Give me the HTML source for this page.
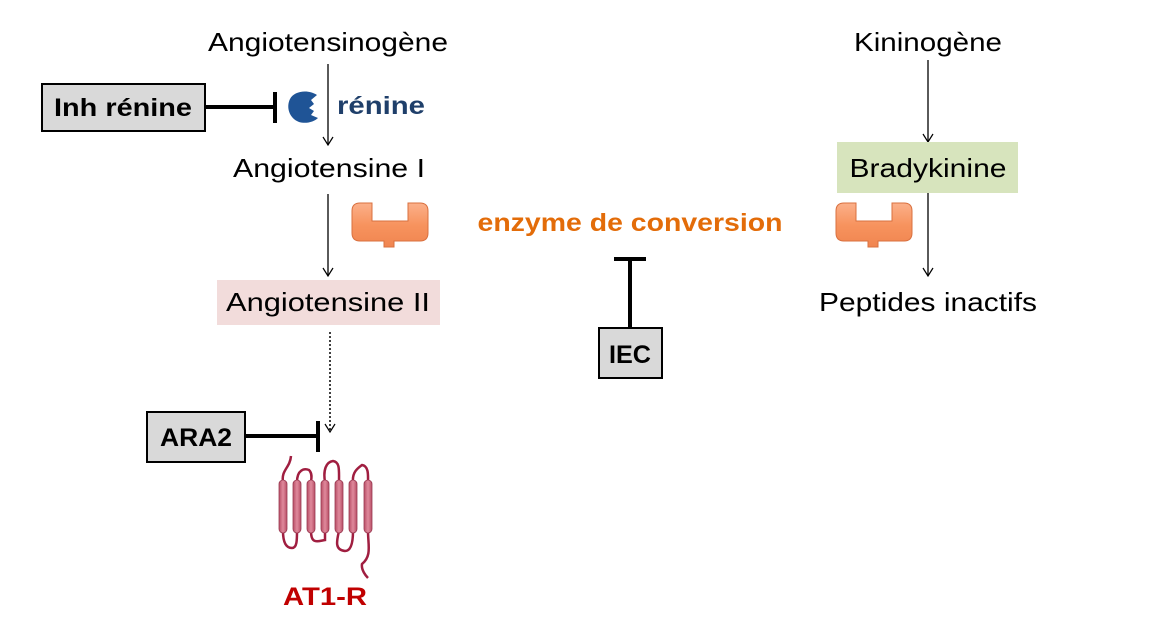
<!DOCTYPE html>
<html><head><meta charset="utf-8"><style>
html,body{margin:0;padding:0;background:#fff;}
svg{display:block;}
text{font-family:"Liberation Sans",sans-serif;}
</style></head><body>
<svg width="1158" height="632" viewBox="0 0 1158 632">
<defs>
<marker id="ah" markerWidth="12" markerHeight="12" refX="10" refY="6" orient="auto" markerUnits="userSpaceOnUse">
<path d="M2,1 L10,6 L2,11" fill="none" stroke="#000" stroke-width="1.2"/>
</marker>
<linearGradient id="og" x1="0" y1="0" x2="0" y2="1"><stop offset="0" stop-color="#fbb08a"/><stop offset="0.5" stop-color="#f7935e"/><stop offset="1" stop-color="#f08550"/></linearGradient>
<linearGradient id="hg" x1="0" y1="0" x2="1" y2="0"><stop offset="0" stop-color="#b84e66"/><stop offset="0.5" stop-color="#e08a9c"/><stop offset="1" stop-color="#b84e66"/></linearGradient>
</defs>

<text x="328" y="51" font-size="26" text-anchor="middle" textLength="240" lengthAdjust="spacingAndGlyphs">Angiotensinogène</text>
<line x1="328" y1="64" x2="328" y2="145" stroke="#000" stroke-width="1.3" marker-end="url(#ah)"/>

<g>
<rect x="42" y="84" width="163" height="47" fill="#d9d9d9" stroke="#000" stroke-width="2"/>
<text x="123" y="116" font-size="25" font-weight="bold" text-anchor="middle" textLength="138" lengthAdjust="spacingAndGlyphs">Inh rénine</text>
</g>
<g>
<line x1="205" y1="107" x2="275" y2="107" stroke="#000" stroke-width="4"/>
<line x1="275" y1="92" x2="275" y2="123" stroke="#000" stroke-width="4"/>
</g>
<path d="M317,95 C308,89 294,91 290,99 C286,107 289,118 299,122 C306,124 314,122 318,118 L311,115 L314,111 L309,108 L314,104 L311,100 Z" fill="#1f5496"/>
<text x="337" y="114" font-size="25" font-weight="bold" fill="#1f3f6a" textLength="88" lengthAdjust="spacingAndGlyphs">rénine</text>

<text x="329" y="177" font-size="26" text-anchor="middle" textLength="192" lengthAdjust="spacingAndGlyphs">Angiotensine I</text>
<line x1="328" y1="194" x2="328" y2="276" stroke="#000" stroke-width="1.3" marker-end="url(#ah)"/>
<path transform="translate(352,203)" d="M8,0 H20 V18 H56 V0 H68 Q76,0 76,8 V30 Q76,38 68,38 H42 V44 H32 V38 H8 Q0,38 0,30 V8 Q0,0 8,0 Z" fill="url(#og)" stroke="#d9703f" stroke-width="1"/>

<g>
<rect x="217" y="280" width="223" height="45" fill="#f2dcdb"/>
<text x="328" y="311" font-size="26" text-anchor="middle" textLength="204" lengthAdjust="spacingAndGlyphs">Angiotensine II</text>
</g>
<line x1="330" y1="332" x2="330" y2="432" stroke="#000" stroke-width="1.5" stroke-dasharray="2,2" marker-end="url(#ah)"/>

<g>
<rect x="147" y="412" width="98" height="50" fill="#d9d9d9" stroke="#000" stroke-width="2"/>
<text x="196" y="446" font-size="25" font-weight="bold" text-anchor="middle" textLength="72" lengthAdjust="spacingAndGlyphs">ARA2</text>
</g>
<g>
<line x1="245" y1="436" x2="318" y2="436" stroke="#000" stroke-width="4"/>
<line x1="318" y1="421" x2="318" y2="452" stroke="#000" stroke-width="4"/>
</g>

<g>
<path d="M283,482 C281,470 290,468 291,456 M297,482 C297,470 304,468 309,470 C313,474 311,480 311,482 M325,482 C323,470 326,462 333,461 C340,462 339,470 339,482 M353,482 C352,472 358,468 362,465 C369,466 368,476 368,482 M283,531 C283,540 285,548 292,548 C297,548 297,540 297,531 M311,531 C311,545 318,541 325,540 L325,531 M339,531 C337,540 334,550 345,551 C352,551 353,540 353,531 M368,531 C368,545 372,556 362,564 C361,570 366,576 368,578" fill="none" stroke="#a01e40" stroke-width="2.5"/>
<rect x="279" y="480" width="8" height="53" rx="4" fill="url(#hg)" stroke="#9a3a52" stroke-width="0.8"/>
<rect x="293" y="480" width="8" height="53" rx="4" fill="url(#hg)" stroke="#9a3a52" stroke-width="0.8"/>
<rect x="307" y="480" width="8" height="53" rx="4" fill="url(#hg)" stroke="#9a3a52" stroke-width="0.8"/>
<rect x="321" y="480" width="8" height="53" rx="4" fill="url(#hg)" stroke="#9a3a52" stroke-width="0.8"/>
<rect x="335" y="480" width="8" height="53" rx="4" fill="url(#hg)" stroke="#9a3a52" stroke-width="0.8"/>
<rect x="349" y="480" width="8" height="53" rx="4" fill="url(#hg)" stroke="#9a3a52" stroke-width="0.8"/>
<rect x="364" y="480" width="8" height="53" rx="4" fill="url(#hg)" stroke="#9a3a52" stroke-width="0.8"/>
</g>
<text x="325" y="605" font-size="25" font-weight="bold" fill="#c00000" text-anchor="middle" textLength="84" lengthAdjust="spacingAndGlyphs">AT1-R</text>

<text x="630" y="231" font-size="25" font-weight="bold" fill="#e36c09" text-anchor="middle" textLength="305" lengthAdjust="spacingAndGlyphs">enzyme de conversion</text>
<g>
<line x1="614" y1="259" x2="646" y2="259" stroke="#000" stroke-width="4"/>
<line x1="630" y1="259" x2="630" y2="328" stroke="#000" stroke-width="4"/>
</g>
<g>
<rect x="599" y="328" width="63" height="50" fill="#d9d9d9" stroke="#000" stroke-width="2"/>
<text x="630" y="363" font-size="25" font-weight="bold" text-anchor="middle" textLength="42" lengthAdjust="spacingAndGlyphs">IEC</text>
</g>

<text x="928" y="51" font-size="26" text-anchor="middle" textLength="148" lengthAdjust="spacingAndGlyphs">Kininogène</text>
<line x1="928" y1="60" x2="928" y2="142" stroke="#000" stroke-width="1.3" marker-end="url(#ah)"/>
<g>
<rect x="837" y="142" width="181" height="51" fill="#d7e4bd"/>
<text x="928" y="177" font-size="26" text-anchor="middle" textLength="157" lengthAdjust="spacingAndGlyphs">Bradykinine</text>
</g>
<path transform="translate(836,203)" d="M8,0 H20 V18 H56 V0 H68 Q76,0 76,8 V30 Q76,38 68,38 H42 V44 H32 V38 H8 Q0,38 0,30 V8 Q0,0 8,0 Z" fill="url(#og)" stroke="#d9703f" stroke-width="1"/>
<line x1="928" y1="193" x2="928" y2="276" stroke="#000" stroke-width="1.3" marker-end="url(#ah)"/>
<text x="928" y="311" font-size="26" text-anchor="middle" textLength="218" lengthAdjust="spacingAndGlyphs">Peptides inactifs</text>
</svg>
</body></html>
